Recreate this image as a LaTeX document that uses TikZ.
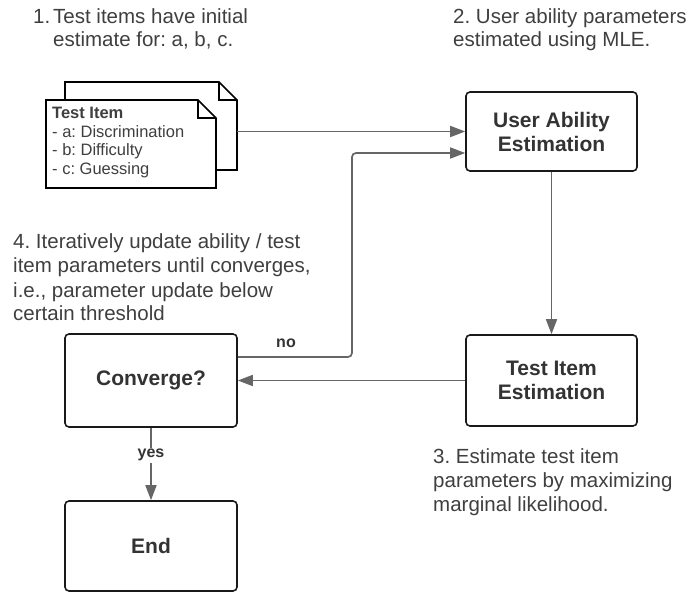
\documentclass[tikz,border=0pt]{standalone}
\usepackage{fontspec}
\setmainfont{Liberation Sans}
\usetikzlibrary{arrows.meta}
\definecolor{linegray}{HTML}{666666}
\definecolor{txtgray}{HTML}{3F3F3F}
\definecolor{boxtxt}{HTML}{333333}
\frenchspacing
\begin{document}
\begin{tikzpicture}[x=1pt,y=-1pt,
  box/.style={draw=black!90, line width=1.6pt, rounded corners=4pt, fill=white, inner sep=0pt,
    font=\fontsize{21}{24}\selectfont\bfseries, text=boxtxt, align=center},
  arr/.style={draw=linegray, line width=1.7pt, -{Triangle[length=15pt,width=11pt]}},
  note/.style={font=\fontsize{20.5}{23}\selectfont, text=txtgray, align=left, anchor=base west, inner sep=0pt},
  lbl/.style={font=\fontsize{16}{18}\selectfont\bfseries, text=boxtxt, inner sep=1.5pt},
  doc/.style={draw=black, line width=1.6pt, fill=white, line join=miter}]
\useasboundingbox (0,0) rectangle (693,593);

% annotations (anchor = baseline of last line)
\node[note] (t1) at (33,47) {\makebox[20pt][l]{1.}Test items have initial\\\hspace*{20pt}estimate for: a, b, c.};
\node[note] (t2) at (453,47) {2. User ability parameters\\estimated using MLE.};
\node[note, font=\fontsize{20.5}{24}\selectfont] (t4) at (13,321) {4. Iteratively update ability / test\\item parameters until converges,\\i.e., parameter update below\\certain threshold};
\node[note, font=\fontsize{20.5}{24}\selectfont] (t3) at (433,511) {3. Estimate test item\\parameters by maximizing\\marginal likelihood.};

% document icons
\draw[doc] (65,82) -- (219,82) -- (237,100) -- (237,170) -- (65,170) -- cycle;
\draw[doc, fill=none] (219,82) -- (219,100) -- (237,100);
\draw[doc] (46,100) -- (198,100) -- (216,118) -- (216,188) -- (46,188) -- cycle;
\draw[doc, fill=none] (198,100) -- (198,118) -- (216,118);
\node[anchor=base west, inner sep=0pt, align=left, text=txtgray, font=\fontsize{16.5}{18.5}\selectfont] (items) at (52,174.5)
  {\textbf{Test Item}\\- a: Discrimination\\- b: Difficulty\\- c: Guessing};
\coordinate (docout) at (237,131.5);

% boxes
\node[box, minimum width=171pt, minimum height=79pt] (user) at (551.5,131.5) {User Ability\\Estimation};
\node[box, minimum width=171pt, minimum height=91pt] (test) at (551.5,380.5) {Test Item\\Estimation};
\node[box, minimum width=172pt, minimum height=93pt] (conv) at (151,380.5) {Converge?};
\node[box, minimum width=172pt, minimum height=90pt] (endb) at (151,546) {End};

% connectors
\draw[arr] (docout) -- (user.west);
\draw[arr] (user.south) -- (test.north);
\draw[arr] (test.west) -- (conv.east);
\draw[arr, rounded corners=4pt] ([yshift=23.5pt]conv.east) -- (352,357) -- (352,153) -- ([yshift=-21.5pt]user.west);
\node[lbl] (no) at (286,343) {no};
\draw[arr] (conv.south) -- node[lbl, fill=white, pos=0.38] (yes) {yes} (endb.north);
\end{tikzpicture}
\end{document}
